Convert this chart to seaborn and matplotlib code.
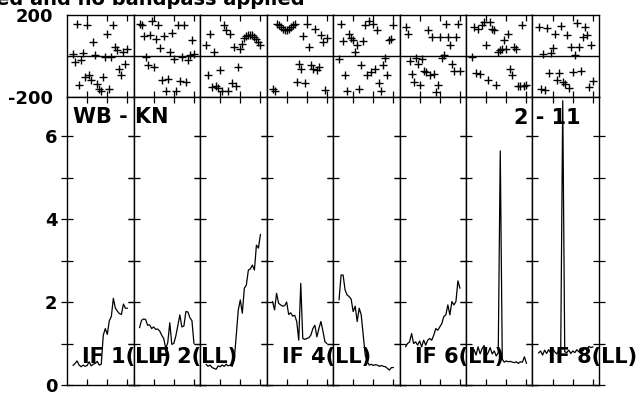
import matplotlib
matplotlib.use("Agg")
import matplotlib.pyplot as plt
import seaborn as sns
import pandas as pd

sns.set_style("ticks")
plt.rcParams['font.family'] = ['DejaVu Sans']
plt.rcParams['font.weight'] = 'bold'
plt.rcParams['text.color'] = 'black'
plt.rcParams['xtick.color'] = 'black'
plt.rcParams['ytick.color'] = 'black'
plt.rcParams['axes.edgecolor'] = 'black'

channels = list(range(3, 31))

amp_if1 = [0.47, 0.52, 0.58, 0.48, 0.44, 0.48, 0.45, 0.47, 0.56, 0.46, 0.50, 0.52, 0.57, 0.48,
           0.50, 1.20, 1.36, 1.22, 1.55, 1.65, 2.09, 1.85, 1.78, 1.72, 1.70, 1.95, 1.85, 1.85]
amp_if2 = [1.38, 1.56, 1.59, 1.58, 1.44, 1.45, 1.36, 1.40, 1.34, 1.35, 1.30, 1.20, 1.12, 0.88,
           1.02, 1.50, 0.98, 1.00, 1.18, 1.43, 1.69, 1.40, 1.42, 1.77, 1.76, 1.62, 1.55, 1.00]
amp_if3 = [0.50, 0.45, 0.48, 0.42, 0.40, 0.38, 0.46, 0.44, 0.48, 0.45, 0.50, 0.46, 0.48, 0.45,
           0.62, 1.20, 1.81, 2.05, 1.73, 2.33, 2.41, 2.77, 2.80, 2.89, 2.77, 3.37, 3.30, 3.63]
amp_if4 = [2.01, 1.81, 2.21, 1.97, 1.93, 1.90, 1.91, 2.00, 1.70, 1.74, 1.66, 1.68, 1.53, 1.08,
           2.45, 1.12, 1.10, 1.12, 1.14, 1.20, 1.36, 1.44, 1.16, 1.36, 1.53, 1.30, 1.04, 1.00]
amp_if5 = [2.05, 2.65, 2.65, 2.29, 2.17, 2.13, 2.07, 1.77, 1.90, 1.53, 1.85, 1.69, 1.20, 0.72,
           0.56, 0.48, 0.50, 0.47, 0.49, 0.48, 0.45, 0.47, 0.45, 0.44, 0.40, 0.36, 0.42, 0.42]
amp_if6 = [0.92, 1.00, 1.04, 1.24, 1.00, 1.04, 0.96, 1.06, 0.92, 1.08, 0.96, 1.08, 1.12, 1.08,
           1.20, 1.36, 1.32, 1.40, 1.48, 1.65, 1.69, 1.93, 1.69, 2.01, 1.93, 2.01, 2.51, 2.33]
amp_if7 = [0.80, 0.85, 0.72, 0.92, 0.75, 0.88, 0.95, 0.70, 0.78, 0.90, 0.75, 0.82, 0.70, 0.78,
           5.64, 0.62, 0.55, 0.58, 0.56, 0.57, 0.55, 0.54, 0.56, 0.52, 0.56, 0.55, 0.68, 0.52]
amp_if8 = [0.77, 0.82, 0.72, 0.84, 0.76, 0.85, 0.78, 0.88, 0.80, 0.75, 0.83, 0.78, 6.85, 0.80,
           0.78, 0.84, 0.76, 0.82, 0.78, 0.85, 0.80, 0.88, 0.82, 0.90, 0.86, 0.93, 0.90, 0.92]

phase_if1 = [12, -29, 158, -140, -21, 16, -102, 150, -94, -118, 68, 7, -135, -160,
             -172, -102, -5, 109, -160, -5, 150, 44, 28, -65, -94, 20, -37, 35]
phase_if2 = [158, 150, 97, -5, -42, 104, 169, -54, 85, 150, 39, -119, 97, -172,
             -111, 20, 114, -13, -172, 150, -124, -5, 150, -127, -20, 3, 76, 10]
phase_if3 = [52, -91, 109, -151, 20, -146, -156, -70, -172, 150, 125, -172, 109, -130,
             44, -146, -54, 32, 60, 88, 97, 101, 101, 101, 93, 81, 68, 52]
phase_if4 = [-163, -172, 158, 150, 141, 133, 125, 125, 133, 141, 150, 155, -127, -37,
             -65, 97, -130, 158, 44, -46, -62, 133, -70, -54, 101, 68, -167, 90]
phase_if5 = [-13, 158, 72, -91, -172, 109, 88, 76, 20, 52, -160, -42, 72, 153,
             -94, 169, -78, 158, -65, 125, -130, -172, -46, -10, -91, 76, 81, 150]
phase_if6 = [141, 109, -26, -86, -127, -10, -37, -140, -13, -75, -78, 125, -94, 93,
             -86, -175, -143, 93, -10, 3, 158, 93, 52, -37, -75, 93, 158, -75]
phase_if7 = [-5, 141, -81, 130, -86, 150, 166, 55, -119, 166, 133, 125, -143, 20,
             28, 36, 76, 32, 109, -62, -91, 44, 32, -146, -146, 150, -146, -140]
phase_if8 = [141, -160, 12, -168, 136, -81, 16, 39, 109, -119, -81, 146, -127, -135,
             101, -156, 44, -78, 3, 163, 44, -75, 93, 141, 101, -151, 52, -124]

if_labels = ["IF 1(LL)", "IF 2(LL)", None, "IF 4(LL)", None, "IF 6(LL)", None, "IF 8(LL)"]
amp_ticks = [0, 1, 2, 3, 4, 5, 6]
amp_ticklabels = ["0", "", "2", "", "4", "", "6"]
phase_ticks = [-200, 200]
phase_ticklabels = ["-200", "200"]
chan_ticks = [10, 20, 30]

amps = [amp_if1, amp_if2, amp_if3, amp_if4, amp_if5, amp_if6, amp_if7, amp_if8]
phases = [phase_if1, phase_if2, phase_if3, phase_if4, phase_if5, phase_if6, phase_if7, phase_if8]

W, H = 636, 394
fig = plt.figure(figsize=(W / 100, H / 100), dpi=100)
L, R, T, B = 67, 599, 15, 385
gs = fig.add_gridspec(2, 8, height_ratios=[82, 288], left=L / W, right=R / W,
                      top=1 - T / H, bottom=1 - B / H, wspace=0, hspace=0)

for i in range(8):
    axp = fig.add_subplot(gs[0, i])
    axa = fig.add_subplot(gs[1, i])
    df = pd.DataFrame({"chan": channels, "amp": amps[i], "phase": phases[i]})
    sns.lineplot(data=df, x="chan", y="amp", ax=axa, color="black", linewidth=0.9,
                 estimator=None, sort=False)
    sns.scatterplot(data=df, x="chan", y="phase", ax=axp, marker="+", color="black",
                    s=40, linewidth=1.0)
    axp.axhline(0, color="black", linewidth=1.0)
    for ax in (axp, axa):
        ax.set_xlim(0, 33)
        ax.set_xlabel("")
        ax.set_ylabel("")
        for sp in ax.spines.values():
            sp.set_visible(True)
            sp.set_linewidth(1.0)
            sp.set_color("black")
        ax.set_xticks(chan_ticks)
        ax.set_xticklabels([])
        ax.tick_params(axis="x", direction="in", length=4, width=0.9, top=True, bottom=True)
    axa.set_ylim(0, 6.94)
    axp.set_ylim(-200, 200)
    axa.set_yticks(amp_ticks)
    axp.set_yticks(phase_ticks)
    axa.tick_params(axis="y", direction="inout", length=8, width=0.9, left=True, right=True,
                    labelsize=13, pad=3, labelcolor="black")
    axp.tick_params(axis="y", length=0, left=True, labelsize=13, pad=10, labelcolor="black")
    if i == 0:
        axa.set_yticklabels(amp_ticklabels, fontweight="bold")
        axp.set_yticklabels(phase_ticklabels, fontweight="bold")
    else:
        axa.set_yticklabels([])
        axp.set_yticklabels([])
    if if_labels[i]:
        x0 = L + (R - L) / 8 * i + 15
        fig.text(x0 / W, 1 - 363 / H, if_labels[i], fontsize=15, fontweight="bold",
                 ha="left", va="baseline", color="black")

fig.text(73 / W, 1 - 123 / H, "WB - KN", fontsize=15, fontweight="bold", ha="left",
         va="baseline", color="black")
fig.text(514 / W, 1 - 124 / H, "2 - 11", fontsize=15, fontweight="bold", ha="left",
         va="baseline", color="black")
fig.text(305 / W, 1 - 5 / H, "ed and no bandpass applied", fontsize=14, fontweight="bold",
         ha="right", va="baseline", color="black")

fig.savefig("out.png", dpi=100)
